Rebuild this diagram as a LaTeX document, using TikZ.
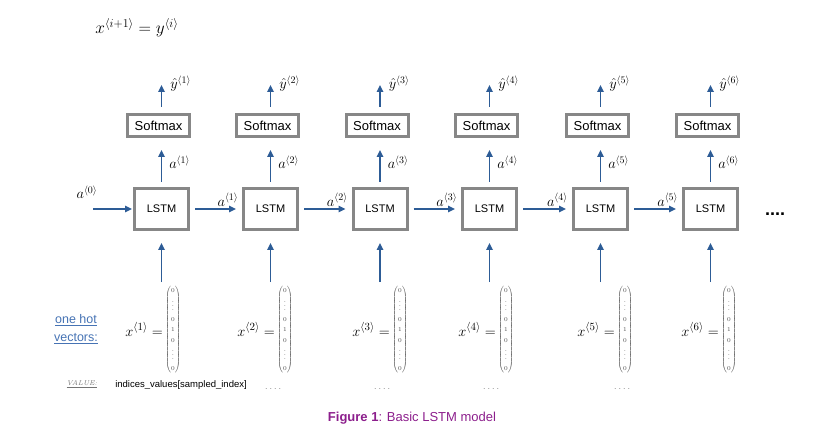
\documentclass[tikz,border=0pt]{standalone}
\usepackage{amsmath}
\usepackage{fontspec}
\setsansfont{Liberation Sans}
\usetikzlibrary{arrows.meta,positioning}

\definecolor{boxgray}{RGB}{135,135,135}
\definecolor{arrblue}{RGB}{45,92,150}
\definecolor{linkblue}{RGB}{70,115,180}
\definecolor{capurple}{RGB}{140,30,140}

\newcommand{\onehotvec}{\fontsize{6}{10.5}\selectfont$\left(\begin{array}{@{}c@{}}0\\\vdots\\0\\1\\0\\\vdots\\0\end{array}\right)$}

\begin{document}
\begin{tikzpicture}[x=1pt, y=-1pt, font=\sffamily,
      lstm/.style={draw=boxgray, line width=3pt, minimum width=54pt, minimum height=41pt,
                   inner sep=0pt, font=\sffamily\fontsize{11}{11}\selectfont},
      smax/.style={draw=boxgray, line width=3pt, minimum width=62pt, minimum height=22pt,
                   inner sep=0pt, font=\sffamily\fontsize{13}{13}\selectfont},
      ar/.style={-{Triangle[length=7pt, width=6.5pt]}, line width=1.6pt, draw=arrblue},
      lbl/.style={font=\fontsize{14}{14}\selectfont, inner sep=1pt},
      vec/.style={inner sep=0pt, text=black!70},
      gdots/.style={text=black!45, font=\sffamily\fontsize{9}{9}\selectfont, inner sep=0pt}]
    \useasboundingbox (0,0) rectangle (823,433);
    % --- relation between steps (top) ---
    \node[font=\fontsize{17}{17}\selectfont] (rel) at (137,28) {$x^{\langle i+1\rangle} = y^{\langle i\rangle}$};
    % --- the unrolled cells ---
    \foreach \x/\vx/\i in {161.5/173/1, 270.5/285/2, 380/400/3, 489.5/506/4, 600.5/625/5, 710.5/729/6} {
      \node[lstm] (L\i) at (\x,209) {LSTM};
      \node[smax] (S\i) at (\x-3,125.5) {Softmax};
      \coordinate (Y\i) at (\x,85);
      \coordinate (I\i) at (\x,282);
      \draw[ar, shorten <=5pt, shorten >=12pt] (L\i.north) -- (L\i.north |- S\i.south)
        node[midway, right=6pt, lbl] {$a^{\langle\i\rangle}$};
      \draw[ar, shorten <=6pt] (L\i.north |- S\i.north) -- (Y\i)
        node[right=7pt, yshift=1pt, lbl] {$\hat{y}^{\langle\i\rangle}$};
      \draw[ar, shorten >=12pt] (I\i) -- (L\i.south);
      % one-hot input below each cell
      \node[vec] (V\i) at (\vx,329.5) {\onehotvec};
      \node[lbl, left=1pt of V\i, font=\fontsize{15}{15}\selectfont] (X\i) {$x^{\langle\i\rangle} =$};
    }
    % --- hidden state passed along the row ---
    \coordinate (A0) at (93,209);
    \node[lbl] (a0) at (87,192) {$a^{\langle 0\rangle}$};
    \draw[ar, shorten >=1pt] (A0) -- (L1.west);
    \foreach \i/\j in {1/2, 2/3, 3/4, 4/5, 5/6}
      \draw[ar, shorten <=5pt, shorten >=6pt] (L\i.east) -- (L\j.west)
        node[pos=0.73, above=1pt, lbl] {$a^{\langle\i\rangle}$};
    \node[font=\sffamily\bfseries\fontsize{18}{18}\selectfont, inner sep=0pt] (more) at (775,214) {....};
    % --- left notes and bottom row ---
    \node[align=center, text=linkblue, font=\sffamily\fontsize{12.5}{18}\selectfont] (onehot) at (76,329)
      {\underline{one hot}\\\underline{vectors:}};
    \node[font=\rmfamily\itshape\fontsize{7}{7}\selectfont, text=black!55] (val) at (82,384) {\underline{VALUE:}};
    \node[font=\sffamily\fontsize{9.5}{9.5}\selectfont] (idx) at (181,385) {indices\_values[sampled\_index]};
    \foreach \dx/\k in {273/2, 382/3, 491/4, 622/5}
      \node[gdots] (D\k) at (\dx,389) {.\hspace{2pt}.\hspace{2pt}.\hspace{2pt}.};
    % --- caption ---
    \node[text=capurple, font=\sffamily\fontsize{13}{13}\selectfont] (cap) at (412,418)
      {\textbf{Figure 1}: Basic LSTM model};
  \end{tikzpicture}
\end{document}
